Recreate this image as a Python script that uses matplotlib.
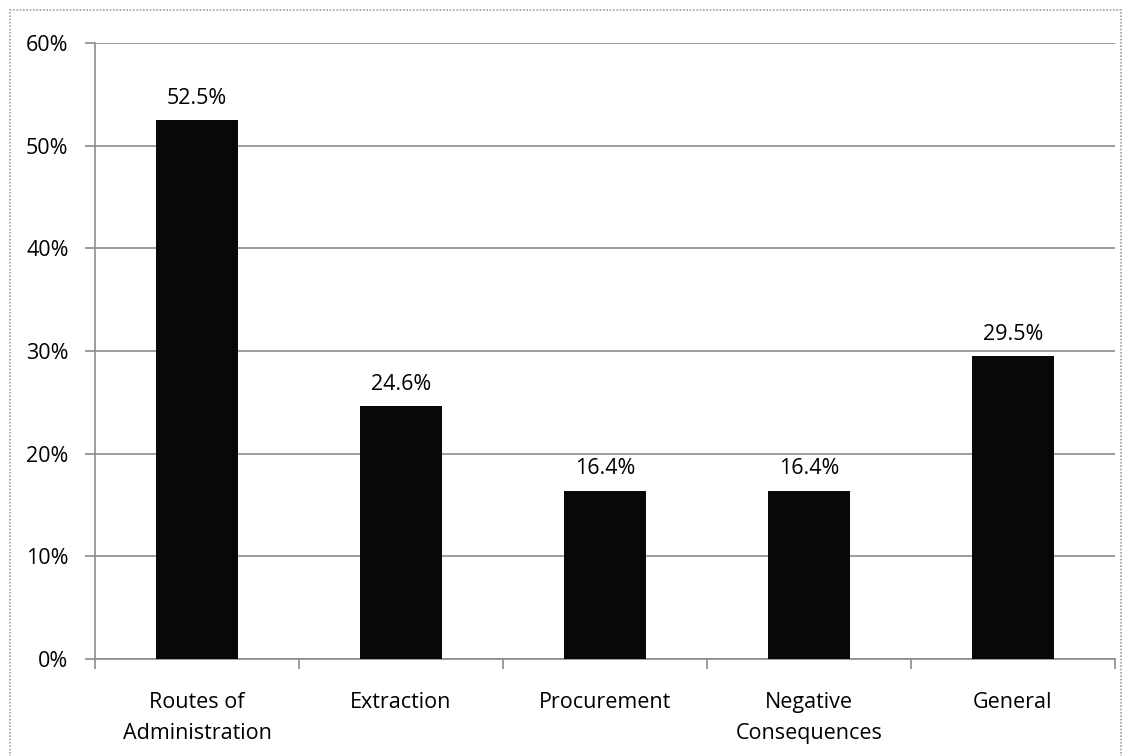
import numpy as np
import matplotlib.pyplot as plt
from matplotlib.patches import Rectangle

categories = ["Routes of\nAdministration", "Extraction", "Procurement",
              "Negative\nConsequences", "General"]
values = [52.5, 24.6, 16.4, 16.4, 29.5]
yticks = [0, 10, 20, 30, 40, 50, 60]

plt.rcParams['font.family'] = ['Open Sans', 'DejaVu Sans']

fig = plt.figure(figsize=(11.24, 7.56), dpi=100)
W, H = 1124, 756
ax = fig.add_axes([95 / W, 1 - 659 / H, (1115 - 95) / W, (659 - 43) / H])

# frame around the whole chart area
fig.patches.append(Rectangle((10 / W, -0.01), (1121 - 10) / W, 1 - 10 / H + 0.01,
                             transform=fig.transFigure, fill=False,
                             edgecolor='#a0a0a0', linewidth=1.2, linestyle=(0, (1, 1))))

x = np.arange(len(categories))
ax.bar(x, values, width=0.4, color='#070909', zorder=3)
for xi, v in zip(x, values):
    ax.text(xi, v + 1.1, f"{v:.1f}%", ha='center', va='bottom', fontsize=15.5)

ax.set_xlim(-0.5, len(categories) - 0.5)
ax.set_ylim(0, 60)
ax.set_yticks(yticks)
ax.set_yticklabels([f"{t}%" for t in yticks], fontsize=15.5)
ax.yaxis.grid(True, color='#8c8c8c', linewidth=1.2, zorder=0)
ax.set_axisbelow(True)

# categories labelled at centres, tick marks at boundaries
ax.set_xticks(x)
ax.set_xticklabels(categories, fontsize=15.5, linespacing=1.6)
ax.tick_params(axis='x', length=0, pad=24)
ax.set_xticks(np.arange(len(categories) + 1) - 0.5, minor=True)
ax.tick_params(axis='x', which='minor', length=7, color='#8c8c8c', width=1.2)
ax.tick_params(axis='y', length=7, color='#8c8c8c', width=1.2, pad=12)

for s in ['top', 'right']:
    ax.spines[s].set_visible(False)
for s in ['left', 'bottom']:
    ax.spines[s].set_color('#8c8c8c')
    ax.spines[s].set_linewidth(1.2)

fig.savefig("out.png", dpi=100)
